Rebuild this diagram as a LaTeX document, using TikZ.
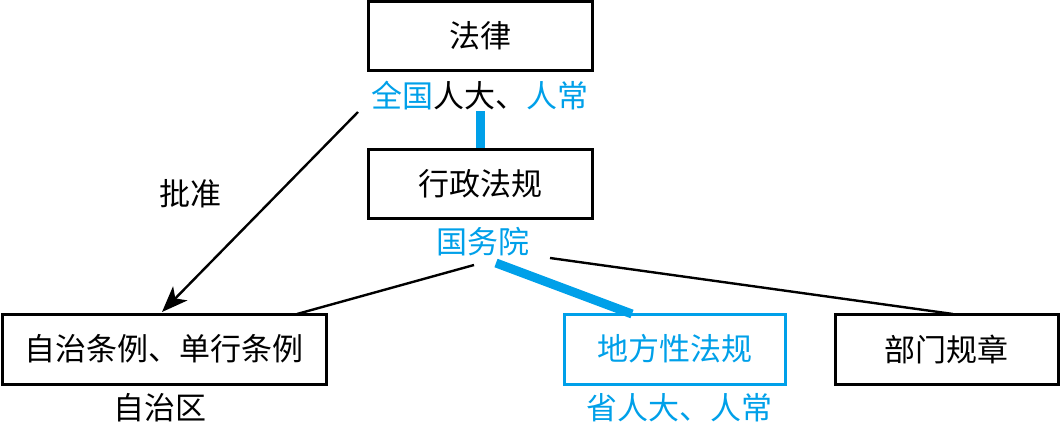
\documentclass[tikz,border=0pt]{standalone}
\usepackage{fontspec}
\newfontfamily\cjk{Noto Sans CJK SC}
\usetikzlibrary{arrows.meta}
\definecolor{lawblue}{RGB}{0,160,233}
\tikzset{
  box/.style={draw=black, line width=3pt, inner sep=0pt, font=\cjk\fontsize{31}{36}\selectfont},
  bluebox/.style={box, draw=lawblue, text=lawblue},
  lbl/.style={inner sep=0pt, font=\cjk\fontsize{31}{36}\selectfont},
  thinline/.style={line width=2.4pt, draw=black},
  thickblue/.style={line width=9pt, draw=lawblue},
}
\begin{document}
\begin{tikzpicture}[x=1pt,y=-1pt]
\useasboundingbox (0,0) rectangle (1062,428);
% boxes
\node[box, minimum width=224pt, minimum height=68pt] (law) at (480,36) {法律};
\node[box, minimum width=224pt, minimum height=69pt] (admin) at (480,183.5) {行政法规};
\node[box, minimum width=324pt, minimum height=70pt] (auto) at (164,349) {自治条例、单行条例};
\node[bluebox, minimum width=221pt, minimum height=70pt] (local) at (674.5,349) {地方性法规};
\node[box, minimum width=223pt, minimum height=70pt] (dept) at (946.5,349) {部门规章};
% labels
\node[lbl] (npc) at (480,96) {\textcolor{lawblue}{全国}人大、\textcolor{lawblue}{人常}};
\node[lbl, text=lawblue] (state) at (483,242) {国务院};
\node[lbl] (region) at (160,408) {自治区};
\node[lbl, text=lawblue] (prov) at (679,408) {省人大、人常};
\node[lbl] (approve) at (190,194) {批准};
% connector end points
\coordinate (a1) at (358,112);
\coordinate (a2) at (162,312);
\coordinate (b1) at (474,265);
\coordinate (b2) at (297,314);
\coordinate (c1) at (496,263);
\coordinate (c2) at (632,314);
\coordinate (d1) at (550,258);
\coordinate (d2) at (953,314);
\coordinate (v1) at (480,111);
\coordinate (v2) at (480,148);
% connectors
\draw[thickblue] (v1) -- (v2);
\draw[thinline, -{Stealth[length=26pt,width=20pt,inset=7pt]}] (a1) -- (a2);
\draw[thinline] (b1) -- (b2);
\draw[thickblue] (c1) -- (c2);
\draw[thinline] (d1) -- (d2);
\end{tikzpicture}
\end{document}
